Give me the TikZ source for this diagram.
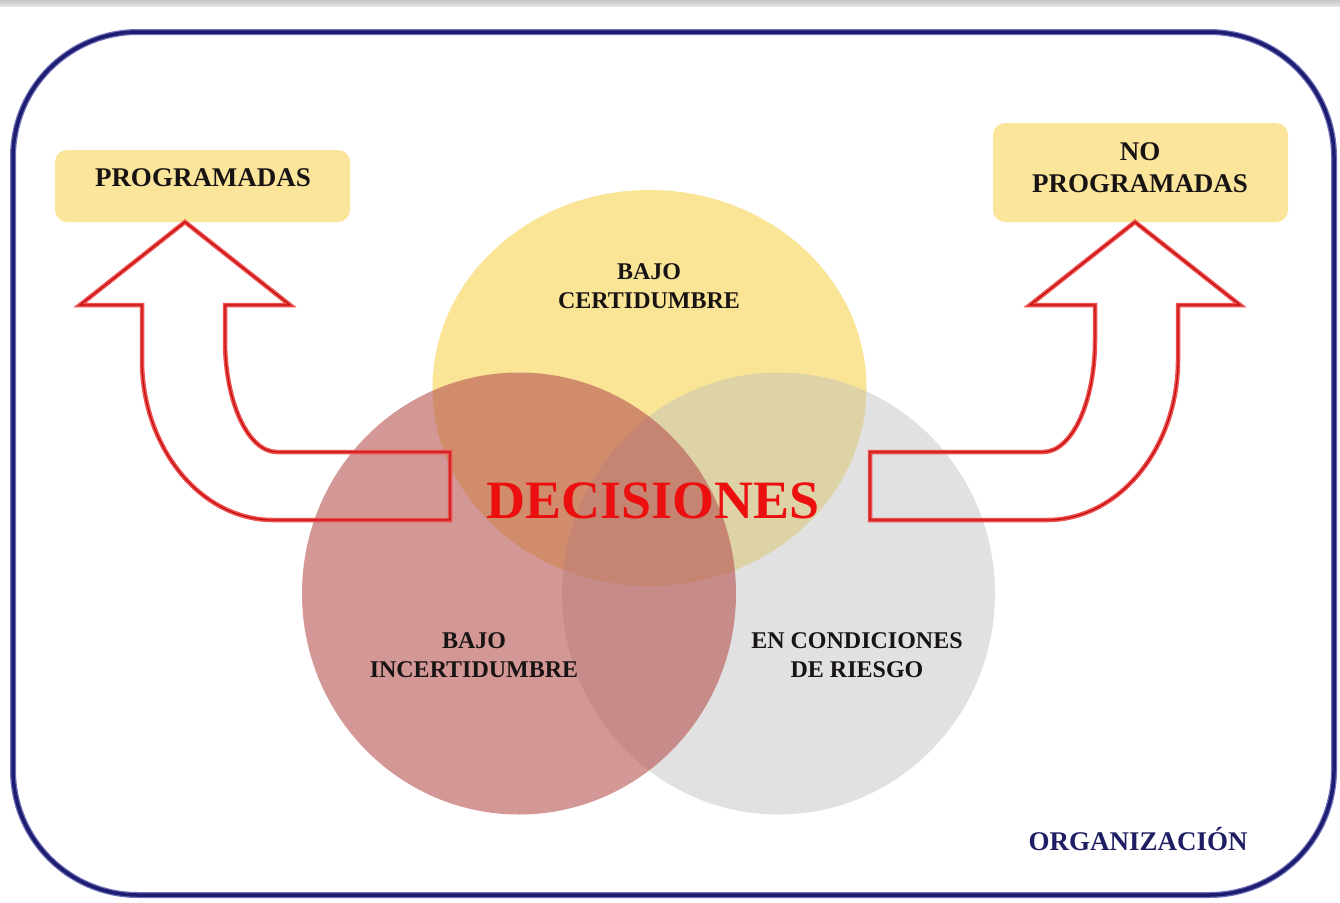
\documentclass[tikz,border=0pt]{standalone}
\usepackage{fontspec}
\setmainfont{Liberation Serif}
\definecolor{navyf}{RGB}{28,28,112}
\definecolor{navyl}{RGB}{110,110,185}
\definecolor{boxy}{RGB}{251,229,155}
\definecolor{circy}{RGB}{250,229,150}
\definecolor{circr}{RGB}{182,82,80}
\definecolor{circg}{RGB}{189,189,189}
\definecolor{arrred}{RGB}{238,80,80}
\definecolor{arrdark}{RGB}{195,15,15}
\definecolor{decred}{RGB}{235,15,15}
\definecolor{txtdark}{RGB}{25,20,20}
\definecolor{orgnavy}{RGB}{30,30,100}
\begin{document}
\begin{tikzpicture}[x=1pt,y=-1pt,
  frameouter/.style={draw=navyl, line width=6pt, rounded corners=125pt},
  frameinner/.style={draw=navyf, line width=3.5pt, rounded corners=125pt},
  arrowout/.style={draw=arrred, line width=4.5pt, line join=miter},
  arrowin/.style={draw=arrdark, line width=1.3pt, line join=miter},
  decbox/.style={fill=boxy, draw=none, rounded corners=12pt, inner sep=0pt, minimum width=295pt},
  lbl/.style={font=\bfseries\fontsize{24}{29}\selectfont, text=txtdark, align=center, inner sep=0pt},
  boxlbl/.style={font=\bfseries\fontsize{27}{32}\selectfont, text=txtdark, align=center, inner sep=0pt}]
\useasboundingbox (0,0) rectangle (1340,902);
\fill[white] (0,0) rectangle (1340,902);
% top gray band
\shade[top color=gray!45, bottom color=gray!20] (0,0) rectangle (1340,6);
% frame
\draw[frameouter] (13,32) rectangle (1334,895);
\draw[frameinner] (13,32) rectangle (1334,895);
% circles
\fill[circy] (649.5,388) ellipse [x radius=217, y radius=198];
\fill[circg, fill opacity=0.45] (778.5,593.5) ellipse [x radius=216.5, y radius=221];
\fill[circr, fill opacity=0.6] (519,593.5) ellipse [x radius=217, y radius=221];
% boxes
\node[decbox, minimum height=72pt] (prog) at (202.5,186) {};
\node[decbox, minimum height=99pt] (noprog) at (1140.5,172.5) {};
% arrows
\coordinate (ltip) at (185,222);
\coordinate (rtip) at (1135,222);
\foreach \st in {arrowout,arrowin}{
\draw[\st] (450,452) -- (277,452) .. controls (248,452) and (225,402) .. (225,340)
  -- (225,305) -- (290,305) -- (ltip) -- (80,305) -- (142,305) -- (142,360)
  .. controls (142,448) and (201,520) .. (273,520) -- (450,520) -- cycle;
\draw[\st] (870,452) -- (1043,452) .. controls (1072,452) and (1095,402) .. (1095,340)
  -- (1095,305) -- (1030,305) -- (rtip) -- (1240,305) -- (1178,305) -- (1178,360)
  .. controls (1178,448) and (1119,520) .. (1047,520) -- (870,520) -- cycle;
}
% texts
\node[boxlbl] (progtxt) at (203,178) {PROGRAMADAS};
\node[boxlbl] (noprogtxt) at (1140,168) {NO\\PROGRAMADAS};
\node[lbl] (certtxt) at (649,286) {BAJO\\CERTIDUMBRE};
\node[lbl] (incerttxt) at (474,655) {BAJO\\INCERTIDUMBRE};
\node[lbl] (riesgotxt) at (857,655) {EN CONDICIONES\\DE RIESGO};
\node[font=\bfseries\fontsize{54}{60}\selectfont, text=decred, inner sep=0pt] (dec) at (653,501) {DECISIONES};
\node[font=\bfseries\fontsize{27}{32}\selectfont, text=orgnavy, anchor=base, inner sep=0pt] (org) at (1138,850) {ORGANIZACIÓN};
\end{tikzpicture}
\end{document}
